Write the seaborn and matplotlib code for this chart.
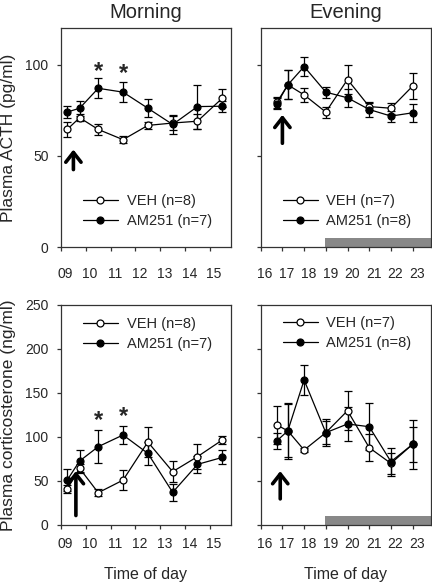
import matplotlib
matplotlib.use("Agg")
import matplotlib.pyplot as plt
import seaborn as sns
import pandas as pd

# sampling times (h)
morning_t = [9.25, 9.75, 10.5, 11.5, 12.5, 13.5, 14.5, 15.5]
evening_t = [16.75, 17.25, 18, 19, 20, 21, 22, 23]
morning_ticks = [9, 10, 11, 12, 13, 14, 15]
morning_labels = ["09", "10", "11", "12", "13", "14", "15"]
evening_ticks = [16, 17, 18, 19, 20, 21, 22, 23]
evening_labels = ["16", "17", "18", "19", "20", "21", "22", "23"]

# ACTH (pg/ml), mean and SEM
acth_m_veh = [64.5, 70.9, 64.5, 58.9, 66.7, 68.0, 69.0, 81.6]
acth_m_veh_err = [4, 2, 3, 2, 2, 4, 4, 5]
acth_m_am = [74.0, 76.1, 87.0, 84.9, 76.1, 67.2, 77.0, 77.2]
acth_m_am_err = [3.5, 4, 5.5, 5.5, 5, 5, 12, 3]
acth_e_veh = [79.4, 88.9, 83.4, 74.0, 91.8, 77.0, 76.1, 88.2]
acth_e_veh_err = [3, 8, 4, 3, 8, 2, 3, 7]
acth_e_am = [78.5, 88.9, 98.9, 84.9, 81.8, 75.4, 71.8, 73.6]
acth_e_am_err = [3, 8, 5, 3, 5, 4, 3, 5]

# corticosterone (ng/ml), mean and SEM
cort_m_veh = [40.9, 64.4, 36.7, 51.0, 94.3, 60.6, 77.7, 96.6]
cort_m_veh_err = [4.5, 5, 4, 11, 17, 12, 14, 5]
cort_m_am = [51.1, 72.7, 89.0, 102.3, 81.4, 37.1, 68.9, 76.8]
cort_m_am_err = [12, 12, 19, 10, 13, 10, 10, 8]
cort_e_veh = [113.6, 107.0, 85.2, 104.9, 129.9, 87.9, 70.0, 91.7]
cort_e_veh_err = [22, 32, 2, 15, 22, 15, 12, 20]
cort_e_am = [95.8, 107.0, 164.8, 104.9, 114.8, 111.7, 72.0, 91.7]
cort_e_am_err = [9, 30, 17, 13, 19, 27, 16, 28]

star_acth = [(10.5, 96.0), (11.5, 95.0)]
star_cort = [(10.5, 119.0), (11.5, 123.0)]

sns.set_style("ticks")
plt.rcParams["font.family"] = ["Liberation Sans", "DejaVu Sans"]

fig = plt.figure(figsize=(4.32, 5.84), dpi=100)
W, H = 432.0, 584.0


def add_ax(x0, x1, y0, y1):
    return fig.add_axes([x0 / W, 1 - y1 / H, (x1 - x0) / W, (y1 - y0) / H])


ax_am = add_ax(61, 231, 28, 247.3)
ax_pm = add_ax(260.7, 431.3, 28, 247.3)
ax_cm = add_ax(61, 231, 305, 525)
ax_cp = add_ax(260.7, 431.3, 305, 525)


def draw(ax, t, veh, veh_err, am, am_err, n_veh, n_am):
    df = pd.DataFrame({"t": t, "veh": veh, "am": am})
    ax.errorbar(t, veh, yerr=veh_err, fmt="none", ecolor="black",
                elinewidth=0.9, capsize=2.6, capthick=0.9, zorder=2)
    ax.errorbar(t, am, yerr=am_err, fmt="none", ecolor="black",
                elinewidth=0.9, capsize=2.6, capthick=0.9, zorder=2)
    sns.lineplot(data=df, x="t", y="veh", ax=ax, color="black", lw=0.9,
                 marker="o", markersize=5, markerfacecolor="white",
                 markeredgecolor="black", markeredgewidth=0.9,
                 label=f"VEH (n={n_veh})", zorder=3)
    sns.lineplot(data=df, x="t", y="am", ax=ax, color="black", lw=0.9,
                 marker="o", markersize=5, markerfacecolor="black",
                 markeredgecolor="black", markeredgewidth=0.9,
                 label=f"AM251 (n={n_am})", zorder=4)


draw(ax_am, morning_t, acth_m_veh, acth_m_veh_err, acth_m_am, acth_m_am_err, 8, 7)
draw(ax_pm, evening_t, acth_e_veh, acth_e_veh_err, acth_e_am, acth_e_am_err, 7, 8)
draw(ax_cm, morning_t, cort_m_veh, cort_m_veh_err, cort_m_am, cort_m_am_err, 8, 7)
draw(ax_cp, evening_t, cort_e_veh, cort_e_veh_err, cort_e_am, cort_e_am_err, 7, 8)

for ax, legy in [(ax_am, 0.166), (ax_pm, 0.166), (ax_cm, 0.869), (ax_cp, 0.873)]:
    for s in ax.spines.values():
        s.set_visible(True)
        s.set_color("#333333")
        s.set_linewidth(0.9)
    ax.tick_params(which="major", length=3, width=0.9, color="#333333")
    ax.set_xlabel("")
    ax.set_ylabel("")
    ax.legend(loc="center left", bbox_to_anchor=(0.128, legy), frameon=False,
              fontsize=10.5, handlelength=2.4, handletextpad=0.6,
              labelspacing=0.4, borderpad=0, borderaxespad=0)

# tick marks on the hour, labels drawn slightly to the right of each mark
for ax in (ax_am, ax_cm):
    ax.set_xlim(9, 15.85)
    ax.set_xticks(morning_ticks)
    ax.set_xticks([t + 0.17 for t in morning_ticks], minor=True)
    ax.set_xticklabels(morning_labels, minor=True, fontsize=10)
for ax in (ax_pm, ax_cp):
    ax.set_xlim(16, 23.86)
    ax.set_xticks(evening_ticks)
    ax.set_xticks([t + 0.2 for t in evening_ticks], minor=True)
    ax.set_xticklabels(evening_labels, minor=True, fontsize=10)
    ax.axvspan(18.95, 24, ymin=0, ymax=0.043, color="#888888", lw=0, zorder=1)

for ax in (ax_am, ax_pm, ax_cm, ax_cp):
    ax.tick_params(axis="x", which="major", labelbottom=False)
    ax.tick_params(axis="x", which="minor", length=0)

for ax in (ax_am, ax_pm):
    ax.set_ylim(0, 120)
    ax.set_yticks([0, 50, 100])
    ax.tick_params(axis="x", which="minor", pad=14)
for ax in (ax_cm, ax_cp):
    ax.set_ylim(0, 250)
    ax.set_yticks([0, 50, 100, 150, 200, 250])
    ax.tick_params(axis="x", which="minor", pad=9)
    ax.set_xlabel("Time of day", fontsize=11.5, labelpad=11)

for ax in (ax_am, ax_cm):
    ax.tick_params(axis="y", labelsize=10, pad=6)
for ax in (ax_pm, ax_cp):
    ax.tick_params(axis="y", labelleft=False)

ax_am.set_title("Morning", fontsize=14.5, pad=7)
ax_pm.set_title("Evening", fontsize=14.5, pad=7)
ax_am.set_ylabel("Plasma ACTH (pg/ml)", fontsize=12.5)
ax_cm.set_ylabel("Plasma corticosterone (ng/ml)", fontsize=12.5)
ax_am.yaxis.set_label_coords(-0.265, 0.5)
ax_cm.yaxis.set_label_coords(-0.265, 0.5)

for x, y in star_acth:
    ax_am.text(x, y, "*", ha="center", va="center", fontsize=17, fontweight="bold")
for x, y in star_cort:
    ax_cm.text(x, y, "*", ha="center", va="center", fontsize=17, fontweight="bold")

arrow = dict(arrowstyle="->,head_length=0.7,head_width=0.55", lw=2.6, color="black")
ax_am.annotate("", xy=(9.5, 55), xytext=(9.5, 41), arrowprops=arrow)
ax_pm.annotate("", xy=(17.0, 74), xytext=(17.0, 55.4), arrowprops=arrow)
ax_cm.annotate("", xy=(9.6, 64.4), xytext=(9.6, 7.6), arrowprops=arrow)
ax_cp.annotate("", xy=(16.9, 64.4), xytext=(16.9, 26.5), arrowprops=arrow)

fig.savefig("out.png", dpi=100)
